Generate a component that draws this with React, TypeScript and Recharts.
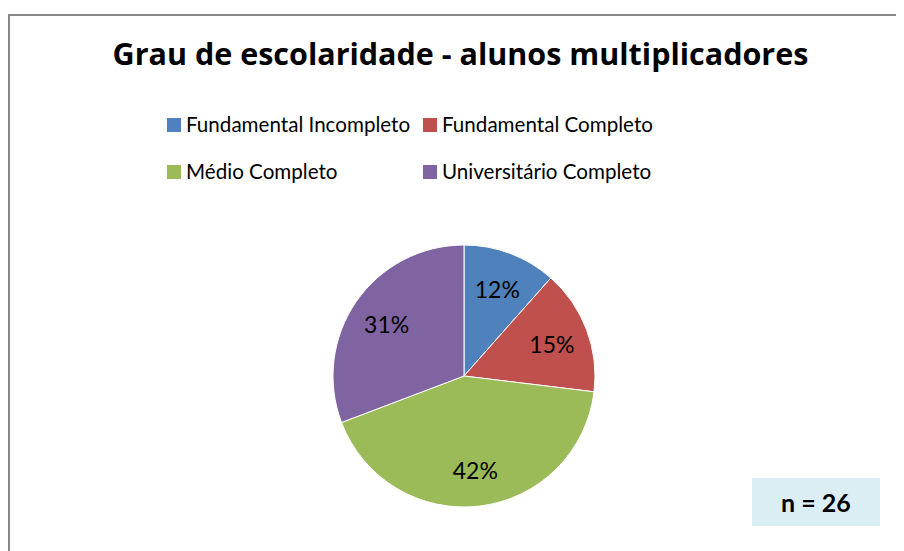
import { Cell, Legend, Pie, PieChart } from "recharts";

const CATEGORIES = [
  "Fundamental Incompleto",
  "Fundamental Completo",
  "Médio Completo",
  "Universitário Completo",
];
const COUNTS = [3, 4, 11, 8];
const COLORS = ["#4F81BD", "#C0504D", "#9BBB59", "#8064A2"];
const TITLE = "Grau de escolaridade - alunos multiplicadores";
const N_LABEL = "n = 26";

const FONT = "Lato, 'Open Sans', sans-serif";
const TITLE_FONT = "'Open Sans', Lato, sans-serif";
const RADIAN = Math.PI / 180;

const data = CATEGORIES.map((name, i) => ({ name, value: COUNTS[i] }));

// legend slots, 2 columns x 2 rows
const LEGEND_POS = [
  { left: 159, top: 4 },
  { left: 415, top: 4 },
  { left: 159, top: 51 },
  { left: 415, top: 51 },
];

function renderLegend() {
  return (
    <div style={{ position: "relative", width: 896, height: 90 }}>
      {CATEGORIES.map((name, i) => (
        <div
          key={name}
          style={{
            position: "absolute",
            left: LEGEND_POS[i].left,
            top: LEGEND_POS[i].top,
            display: "flex",
            alignItems: "center",
            fontFamily: FONT,
            fontSize: 20.6,
            lineHeight: "25px",
            color: "#000",
            whiteSpace: "nowrap",
          }}
        >
          <span
            style={{
              display: "inline-block",
              width: 14,
              height: 14,
              background: COLORS[i],
              marginRight: 5,
            }}
          />
          {name}
        </div>
      ))}
    </div>
  );
}

function renderLabel(props: any) {
  const { cx, cy, midAngle, percent } = props;
  const r = 94;
  const x = cx + r * Math.cos(-midAngle * RADIAN);
  const y = cy + r * Math.sin(-midAngle * RADIAN);
  return (
    <text
      x={x}
      y={y + 1}
      fill="#000"
      textAnchor="middle"
      dominantBaseline="central"
      fontFamily={FONT}
      fontSize={23}
    >
      {`${Math.round(percent * 100)}%`}
    </text>
  );
}

export default function App() {
  return (
    <div
      style={{
        position: "relative",
        width: 896,
        height: 543,
        overflow: "hidden",
        background: "#fff",
      }}
    >
      <div
        style={{
          position: "absolute",
          left: 0,
          top: 6,
          width: 920,
          height: 560,
          border: "2px solid #878787",
          boxSizing: "border-box",
        }}
      />
      <div
        style={{
          position: "absolute",
          left: 0,
          top: 27,
          width: 905,
          textAlign: "center",
          fontFamily: TITLE_FONT,
          fontWeight: 700,
          fontSize: 30.5,
          lineHeight: "36px",
          color: "#000",
          whiteSpace: "nowrap",
        }}
      >
        {TITLE}
      </div>
      <PieChart
        width={896}
        height={543}
        margin={{ top: 0, right: 0, bottom: 0, left: 0 }}
        style={{ position: "absolute", left: 0, top: 0 }}
      >
        <Legend
          content={renderLegend}
          wrapperStyle={{ position: "absolute", top: 100, left: 0, width: 896 }}
        />
        <Pie
          data={data}
          dataKey="value"
          nameKey="name"
          cx={456}
          cy={368}
          outerRadius={131}
          startAngle={90}
          endAngle={-270}
          stroke="#ffffff"
          strokeWidth={1}
          label={renderLabel}
          labelLine={false}
          isAnimationActive={false}
        >
          {data.map((d, i) => (
            <Cell key={d.name} fill={COLORS[i]} />
          ))}
        </Pie>
      </PieChart>
      <div
        style={{
          position: "absolute",
          left: 744,
          top: 470,
          width: 128,
          height: 48,
          background: "#DBEEF4",
          display: "flex",
          alignItems: "center",
          justifyContent: "center",
          fontFamily: FONT,
          fontWeight: 700,
          fontSize: 25,
          color: "#000",
        }}
      >
        {N_LABEL}
      </div>
    </div>
  );
}
